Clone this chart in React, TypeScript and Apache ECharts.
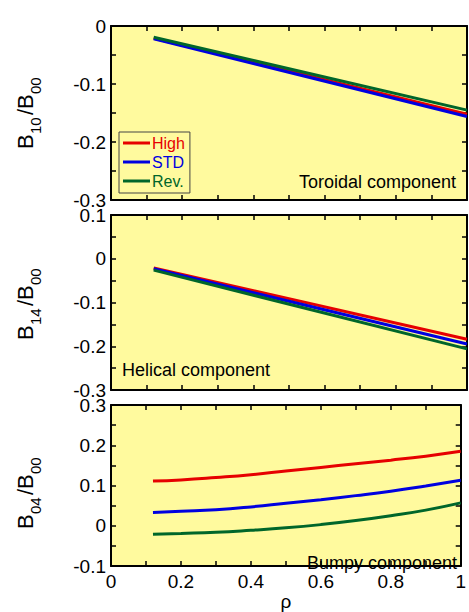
import React, { useEffect, useRef } from "react";
import * as echarts from "echarts";

// ---------- data ----------
const seriesNames = ["High", "STD", "Rev."];
const seriesColors = ["#e60000", "#0000e0", "#00662a"];

const linearX = [0.12, 1.0];
const toroidalHigh = [-0.021, -0.152];
const toroidalSTD = [-0.022, -0.156];
const toroidalRev = [-0.0195, -0.145];

const helicalHigh = [-0.021, -0.184];
const helicalSTD = [-0.023, -0.195];
const helicalRev = [-0.026, -0.206];

const bumpyX = [0.12, 0.2, 0.3, 0.4, 0.5, 0.6, 0.7, 0.8, 0.9, 1.0];
const bumpyHigh = [0.111, 0.114, 0.12, 0.127, 0.136, 0.145, 0.154, 0.163, 0.173, 0.185];
const bumpySTD = [0.033, 0.036, 0.04, 0.047, 0.056, 0.065, 0.075, 0.086, 0.099, 0.113];
const bumpyRev = [-0.021, -0.019, -0.016, -0.011, -0.005, 0.003, 0.013, 0.025, 0.039, 0.057];

const panelYRanges = [
  [-0.3, 0],
  [-0.3, 0.1],
  [-0.1, 0.3],
];
const panelSubs = [
  ["10", "00"],
  ["14", "00"],
  ["04", "00"],
];
const panelNotes = ["Toroidal component", "Helical component", "Bumpy component"];
const xAxisTitle = "ρ";

const FONT = "'Liberation Sans', Arial, Helvetica, sans-serif";
const BG = "#fffa9e";

const grids = [
  { left: 111, top: 26, width: 356, height: 174 },
  { left: 111, top: 215, width: 356, height: 175 },
  { left: 111, top: 405, width: 356, height: 174 },
];

function pairs(xs: number[], ys: number[]) {
  return xs.map((x, i) => [x, ys[i]]);
}

function yFmt(v: number) {
  const k = Math.round(v / 0.05);
  if (k % 2 !== 0) return "";
  const t = k / 20;
  if (Math.abs(t) < 1e-9) return "0";
  return t.toFixed(1);
}
function xFmt(v: number) {
  const k = Math.round(v * 10);
  if (k % 2 !== 0) return "";
  const t = k / 10;
  if (t === 0) return "0";
  if (t === 1) return "1";
  return t.toFixed(1);
}

export default function App() {
  const ref = useRef<HTMLDivElement>(null);
  useEffect(() => {
    document.body.style.margin = "0";
    if (!ref.current) return;
    const chart = echarts.init(ref.current, undefined, { renderer: "svg" });

    const tickStyle = { show: true, inside: true, length: 5, lineStyle: { color: "#000", width: 1.5 } };
    const axisLine = { show: true, onZero: false, lineStyle: { color: "#000", width: 2 } };

    const xAxes: any[] = [];
    const yAxes: any[] = [];
    grids.forEach((g, i) => {
      xAxes.push({
        type: "value",
        gridIndex: i,
        position: "bottom",
        min: 0,
        max: 1,
        interval: 0.1,
        axisLine,
        axisTick: tickStyle,
        splitLine: { show: false },
        axisLabel: {
          show: i === 2,
          formatter: xFmt,
          color: "#000",
          fontSize: 19,
          fontFamily: FONT,
          margin: 6,
        },
        name: i === 2 ? xAxisTitle : "",
        nameLocation: "middle",
        nameGap: 14,
        nameTextStyle: { color: "#000", fontSize: 19, fontFamily: FONT },
      });
      xAxes.push({
        type: "value",
        gridIndex: i,
        position: "top",
        min: 0,
        max: 1,
        interval: 0.1,
        axisLine,
        axisTick: tickStyle,
        splitLine: { show: false },
        axisLabel: { show: false },
      });
      yAxes.push({
        type: "value",
        gridIndex: i,
        position: "left",
        min: panelYRanges[i][0],
        max: panelYRanges[i][1],
        interval: 0.05,
        axisLine,
        axisTick: tickStyle,
        splitLine: { show: false },
        axisLabel: {
          formatter: yFmt,
          color: "#000",
          fontSize: 19,
          fontFamily: FONT,
          margin: 5,
        },
      });
      yAxes.push({
        type: "value",
        gridIndex: i,
        position: "right",
        min: panelYRanges[i][0],
        max: panelYRanges[i][1],
        interval: 0.05,
        axisLine,
        axisTick: tickStyle,
        splitLine: { show: false },
        axisLabel: { show: false },
      });
    });

    const panelData = [
      [toroidalHigh, toroidalSTD, toroidalRev],
      [helicalHigh, helicalSTD, helicalRev],
      [bumpyHigh, bumpySTD, bumpyRev],
    ];
    const series: any[] = [];
    panelData.forEach((set, p) => {
      set.forEach((ys, k) => {
        series.push({
          type: "line",
          name: seriesNames[k],
          xAxisIndex: p * 2,
          yAxisIndex: p * 2,
          data: pairs(p === 2 ? bumpyX : linearX, ys),
          smooth: p === 2 ? 0.5 : false,
          showSymbol: false,
          symbol: "none",
          lineStyle: { color: seriesColors[k], width: 3 },
          itemStyle: { color: seriesColors[k] },
          clip: true,
        });
      });
    });

    const yTitle = (cx: number, cy: number, s1: string, s2: string) => ({
      type: "group",
      x: cx,
      y: cy,
      rotation: Math.PI / 2,
      children: [
        { type: "text", style: { text: "B", x: -36, y: 0, fontSize: 22, fontFamily: FONT, fill: "#000", verticalAlign: "middle", align: "left" } },
        { type: "text", style: { text: s1, x: -21, y: 10, fontSize: 15, fontFamily: FONT, fill: "#000", verticalAlign: "middle", align: "left" } },
        { type: "text", style: { text: "/", x: -2, y: 0, fontSize: 22, fontFamily: FONT, fill: "#000", verticalAlign: "middle", align: "left" } },
        { type: "text", style: { text: "B", x: 4, y: 0, fontSize: 22, fontFamily: FONT, fill: "#000", verticalAlign: "middle", align: "left" } },
        { type: "text", style: { text: s2, x: 19, y: 10, fontSize: 15, fontFamily: FONT, fill: "#000", verticalAlign: "middle", align: "left" } },
      ],
    });

    const graphic: any[] = [
      yTitle(25, 113, panelSubs[0][0], panelSubs[0][1]),
      yTitle(25, 304, panelSubs[1][0], panelSubs[1][1]),
      yTitle(25, 493, panelSubs[2][0], panelSubs[2][1]),
      { type: "text", style: { text: panelNotes[0], x: 456, y: 182, fontSize: 18, fontFamily: FONT, fill: "#000", align: "right", verticalAlign: "middle" } },
      { type: "text", style: { text: panelNotes[1], x: 122, y: 370, fontSize: 18, fontFamily: FONT, fill: "#000", align: "left", verticalAlign: "middle" } },
      { type: "text", style: { text: panelNotes[2], x: 457, y: 563, fontSize: 18, fontFamily: FONT, fill: "#000", align: "right", verticalAlign: "middle" } },
    ];

    chart.setOption({
      animation: false,
      backgroundColor: "#fff",
      grid: grids.map((g) => ({ ...g, show: true, backgroundColor: BG, borderWidth: 0, containLabel: false })),
      xAxis: xAxes,
      yAxis: yAxes,
      series,
      legend: {
        orient: "vertical",
        left: 119,
        top: 132,
        icon: "rect",
        itemWidth: 27,
        itemHeight: 3,
        itemGap: 3,
        padding: [3, 5, 4, 4],
        borderColor: "#444",
        borderWidth: 1,
        backgroundColor: "transparent",
        data: seriesNames.map((n, k) => ({ name: n, textStyle: { color: seriesColors[k] } })),
        textStyle: { fontSize: 16, fontFamily: FONT, padding: [0, 0, 0, -3] },
        selectedMode: false,
      },
      graphic,
    });
    return () => chart.dispose();
  }, []);
  return <div ref={ref} style={{ width: 469, height: 612 }} />;
}
